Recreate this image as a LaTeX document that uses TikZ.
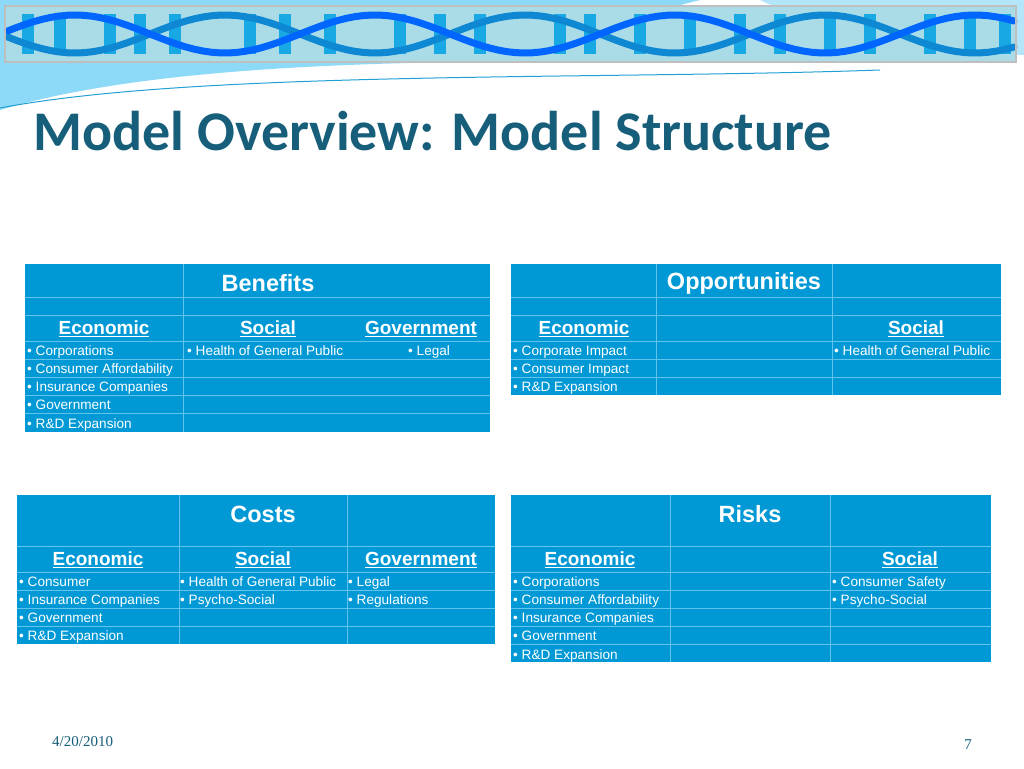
\documentclass[tikz,border=0pt]{standalone}
\usepackage{fontspec}
\setmainfont{Liberation Sans}
\newfontfamily\titlefont{Carlito}
\newfontfamily\footfont{Liberation Serif}
\usepackage{tikz}
\usetikzlibrary{positioning}
\definecolor{tblue}{RGB}{0,153,214}
\definecolor{tline}{RGB}{96,196,236}
\definecolor{ttitle}{RGB}{22,94,122}
\definecolor{dnalight}{RGB}{170,220,232}
\definecolor{dnadark}{RGB}{40,110,210}
\tikzset{
  tbl/.style={fill=tblue,draw=none},
  grid/.style={draw=tline,line width=0.8pt},
  item/.style={anchor=base west,text=white,font=\fontsize{13.6}{14}\selectfont,inner sep=1pt},
  hdr/.style={text=white,font=\fontsize{23.5}{24}\selectfont\bfseries,inner sep=0pt},
  colhd/.style={text=white,font=\fontsize{19}{20}\selectfont\bfseries,inner sep=0pt},
  strand/.style={line width=7pt,color=#1,line cap=round}
}
\newcommand{\ul}[1]{\underline{#1}}
\begin{document}
\begin{tikzpicture}[x=1pt,y=-1pt]
            \useasboundingbox (0,0) rectangle (1024,768);
            \fill[white] (0,0) rectangle (1024,768);

            % BANNER PART

            \fill[cyan!45] (0,0) -- (0,110) .. controls (100,80) and (250,65) .. (460,62) -- (700,0) -- cycle;
            \fill[cyan!30] (700,0) -- (760,0) .. controls (800,20) and (900,50) .. (1024,55) -- (1024,0) -- cycle;
            \draw[cyan!70!teal,line width=1pt] (0,108) .. controls (200,70) and (600,80) .. (880,70);
            \fill[dnalight] (5,6) rectangle (1016,62);
            \foreach \x in {28,60,110,140,175,250,285,330,400,440,480,560,590,640,690,740,780,830,870,930,970,1005}
              \fill[dnadark!60!cyan] (\x-6,14) rectangle (\x+6,54);
            \draw[strand=cyan!70!blue,domain=8:1014,samples=120] plot (\x,{34+19*sin(1.2*\x)});
            \draw[strand=blue!60!cyan,domain=8:1014,samples=120] plot (\x,{34-19*sin(1.2*\x)});
            \draw[gray!50,line width=1.2pt] (5,6) rectangle (1016,62);

            \node[anchor=west,text=ttitle,font=\titlefont\fontsize{56}{56}\selectfont\bfseries] (title) at (30,131) {Model Overview: Model Structure};

            % BENEFITS PART

            \fill[tbl] (25,264) rectangle (490,432);
            \foreach \y in {297,315,341,359,377,395,413} \draw[grid] (25,\y) -- (490,\y);
            \draw[grid] (183,264) -- (183,432);
            \node[hdr] (bh) at (268,283) {Benefits};
            \node[colhd] (be) at (104,329) {\ul{Economic}};
            \node[colhd] (bs) at (268,329) {\ul{Social}};
            \node[colhd] (bg) at (421,329) {\ul{Government}};
            \node[item] (b1) at (26,355) {• Corporations};
            \node[item] (b2) at (26,373) {• Consumer Affordability};
            \node[item] (b3) at (26,391) {• Insurance Companies};
            \node[item] (b4) at (26,409) {• Government};
            \node[item] (b5) at (26,428) {• R\&D Expansion};
            \node[item] (b6) at (186,355) {• Health of General Public};
            \node[item] (b7) at (407,355) {• Legal};

            % OPPORTUNITIES PART

            \fill[tbl] (511,264) rectangle (1001,395);
            \foreach \y in {297,315,341,359,377} \draw[grid] (511,\y) -- (1001,\y);
            \foreach \x in {656,832} \draw[grid] (\x,264) -- (\x,395);
            \node[hdr] (oh) at (744,283) {Opportunities};
            \node[colhd] (oe) at (584,329) {\ul{Economic}};
            \node[colhd] (os) at (916,329) {\ul{Social}};
            \node[item] (o1) at (512,355) {• Corporate Impact};
            \node[item] (o2) at (512,373) {• Consumer Impact};
            \node[item] (o3) at (512,391) {• R\&D Expansion};
            \node[item] (o4) at (833,355) {• Health of General Public};

            % COSTS PART

            \fill[tbl] (17,495) rectangle (495,644);
            \foreach \y in {546,572,590,608,626} \draw[grid] (17,\y) -- (495,\y);
            \foreach \x in {179,347} \draw[grid] (\x,495) -- (\x,644);
            \node[hdr] (ch) at (263,514) {Costs};
            \node[colhd] (ce) at (98,560) {\ul{Economic}};
            \node[colhd] (cs) at (263,560) {\ul{Social}};
            \node[colhd] (cg) at (421,560) {\ul{Government}};
            \node[item] (c1) at (18,586) {• Consumer};
            \node[item] (c2) at (18,604) {• Insurance Companies};
            \node[item] (c3) at (18,622) {• Government};
            \node[item] (c4) at (18,640) {• R\&D Expansion};
            \node[item] (c5) at (179,586) {• Health of General Public};
            \node[item] (c6) at (179,604) {• Psycho-Social};
            \node[item] (c7) at (347,586) {• Legal};
            \node[item] (c8) at (347,604) {• Regulations};

            % RISKS PART

            \fill[tbl] (511,495) rectangle (991,662);
            \foreach \y in {546,572,590,608,626,644} \draw[grid] (511,\y) -- (991,\y);
            \foreach \x in {670,830} \draw[grid] (\x,495) -- (\x,662);
            \node[hdr] (rh) at (750,514) {Risks};
            \node[colhd] (re) at (590,560) {\ul{Economic}};
            \node[colhd] (rs) at (910,560) {\ul{Social}};
            \node[item] (r1) at (512,586) {• Corporations};
            \node[item] (r2) at (512,604) {• Consumer Affordability};
            \node[item] (r3) at (512,622) {• Insurance Companies};
            \node[item] (r4) at (512,640) {• Government};
            \node[item] (r5) at (512,659) {• R\&D Expansion};
            \node[item] (r6) at (831,586) {• Consumer Safety};
            \node[item] (r7) at (831,604) {• Psycho-Social};

            % FOOTER PART

            \node[anchor=west,text=ttitle,font=\footfont\fontsize{15}{15}\selectfont,inner sep=0pt] (date) at (52,742) {4/20/2010};
            \node[text=ttitle,font=\footfont\fontsize{15}{15}\selectfont,inner sep=0pt] (page) at (968,745) {7};

\end{tikzpicture}
\end{document}
